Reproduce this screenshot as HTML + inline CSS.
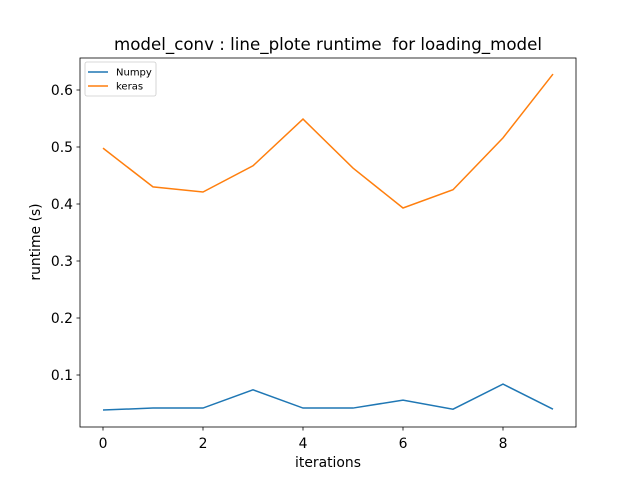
<!DOCTYPE html>
<html><head><meta charset="utf-8"><style>
body{margin:0;background:#fff;}
svg text{font-family:"DejaVu Sans","Liberation Sans",sans-serif;}
</style></head><body>
<svg width="640" height="480" xmlns="http://www.w3.org/2000/svg">
<rect width="640" height="480" fill="#fff"/>
<text x="114" y="50" font-size="16.7" textLength="428" lengthAdjust="spacingAndGlyphs" style="white-space:pre">model_conv : line_plote runtime  for loading_model</text>
<g id="ticks"></g>
<g id="lines"></g>
<rect x="80" y="58" width="496" height="369" fill="none" stroke="#000" stroke-width="0.8"/>
<text x="328" y="467" font-size="13.9" text-anchor="middle">iterations</text>
<text transform="translate(40,242) rotate(-90)" font-size="13.9" text-anchor="middle">runtime (s)</text>
<g>
<rect x="85" y="62" width="71" height="34" fill="#fff" stroke="#ccc" stroke-width="0.8" rx="2"/>
<line x1="88" y1="72" x2="108" y2="72" stroke="#1f77b4" stroke-width="1.5"/>
<text x="116" y="75.5" font-size="10">Numpy</text>
<line x1="88" y1="86" x2="108" y2="86" stroke="#ff7f0e" stroke-width="1.5"/>
<text x="116" y="89.5" font-size="10">keras</text>
</g>
</svg>
<script>
const iterations=[0,1,2,3,4,5,6,7,8,9];
const numpyValues=[0.0386,0.042,0.042,0.074,0.042,0.042,0.056,0.040,0.084,0.040];
const kerasValues=[0.498,0.430,0.421,0.467,0.549,0.463,0.393,0.425,0.516,0.628];
const xTicks=[0,2,4,6,8];
const yTicks=[0.1,0.2,0.3,0.4,0.5,0.6];
const NS="http://www.w3.org/2000/svg";
function xs(v){return 103+v*50;}
function ys(v){return 375-(v-0.1)*570;}
const tg=document.getElementById('ticks');
function mk(tag,attrs,parent){const e=document.createElementNS(NS,tag);for(const k in attrs)e.setAttribute(k,attrs[k]);parent.appendChild(e);return e;}
xTicks.forEach(t=>{
 const l=mk('line',{x1:xs(t),x2:xs(t),y1:427,y2:430.5,stroke:'#000','stroke-width':0.8},tg);
 
 
 const tx=mk('text',{x:xs(t),y:448,'font-size':13.9,'text-anchor':'middle'},tg);tx.textContent=t;
 
 
});
yTicks.forEach(t=>{
 const l=mk('line',{x1:76.5,x2:80,y1:ys(t),y2:ys(t),stroke:'#000','stroke-width':0.8},tg);
 
 
 const tx=mk('text',{x:73,y:ys(t)+5,'font-size':13.9,'text-anchor':'end'},tg);tx.textContent=t.toFixed(1);
 
 
});
const lg=document.getElementById('lines');
function series(vals,color,name){
 const p=mk('polyline',{points:vals.map((v,i)=>xs(iterations[i])+','+ys(v)).join(' '),fill:'none',stroke:color,'stroke-width':1.5},lg);
 
 
}
series(numpyValues,'#1f77b4','numpy-line');
series(kerasValues,'#ff7f0e','keras-line');
</script>
</body></html>
